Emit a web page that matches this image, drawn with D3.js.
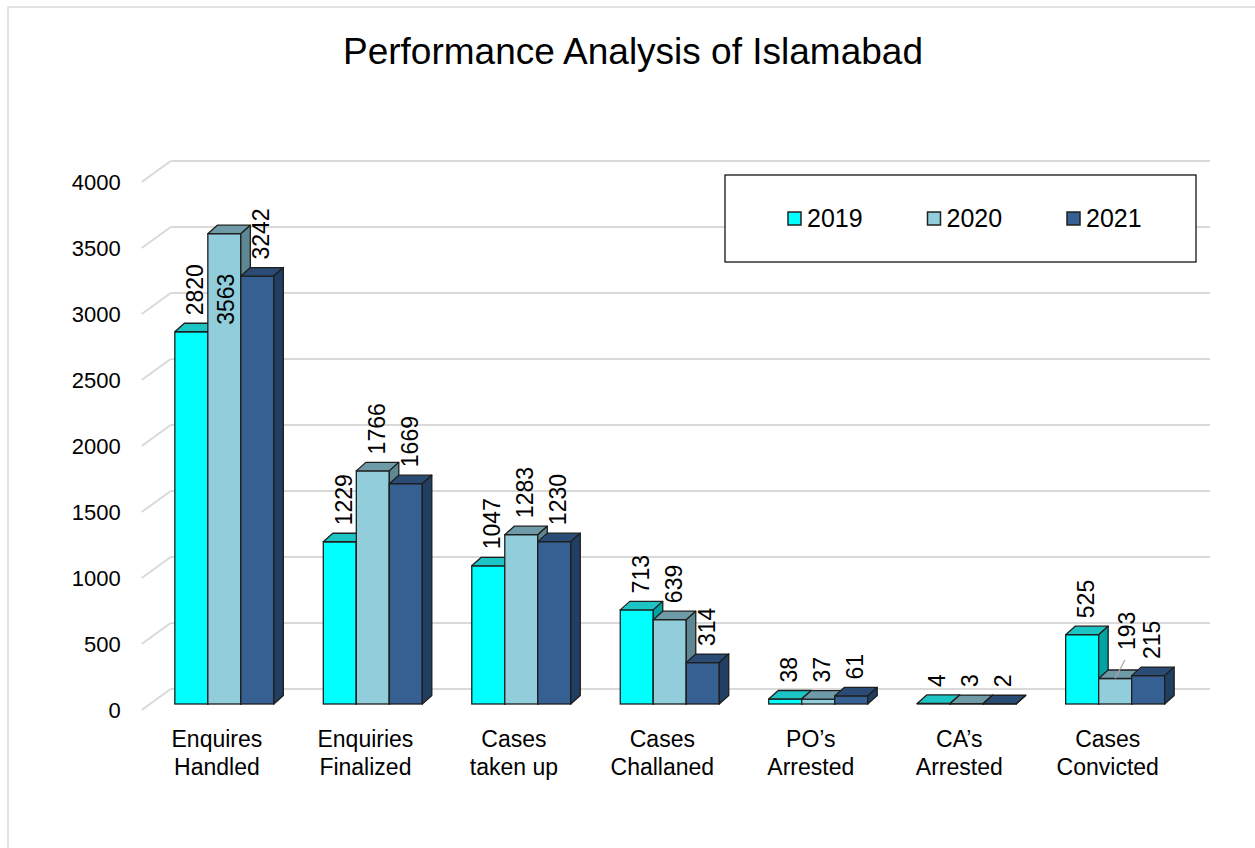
<!DOCTYPE html>
<html>
<head>
<meta charset="utf-8">
<script src="https://cdn.jsdelivr.net/npm/d3@7"></script>
<style>
  body { margin: 0; background: #fff; }
  text { font-family: "Liberation Sans", Arial, sans-serif; fill: #000; }
</style>
</head>
<body>
<div id="chart"></div>
<script>
const categories = ["Enquires\nHandled", "Enquiries\nFinalized", "Cases\ntaken up", "Cases\nChallaned",
    "PO\u2019s\nArrested", "CA\u2019s\nArrested", "Cases\nConvicted"];
const seriesNames = ["2019", "2020", "2021"];
const values2019 = [2820, 1229, 1047, 713, 38, 4, 525];
const values2020 = [3563, 1766, 1283, 639, 37, 3, 193];
const values2021 = [3242, 1669, 1230, 314, 61, 2, 215];
const yTicks = [0, 500, 1000, 1500, 2000, 2500, 3000, 3500, 4000];

const seriesValues = [values2019, values2020, values2021];

// colours: front, top, side
const colors = [
    {front: "#00ffff", top: "#1cc4c4", side: "#00a3a3"},
    {front: "#92cddc", top: "#6e9ba7", side: "#5d8893"},
    {front: "#366092", top: "#2a4c74", side: "#213f63"}
];

const width = 1255, height = 848;
const depth = {dx: 29, dy: -21};      // depth of the whole floor
const barOff = {dx: 8.4, dy: -6};     // bars sit a bit behind the front
const barDepth = {dx: 9.5, dy: -8.5};

const svg = d3.select("#chart").append("svg")
    .attr("width", width)
    .attr("height", height);

svg.append("rect")
    .attr("x", 8).attr("y", 7)
    .attr("width", 1260).attr("height", 860)
    .attr("fill", "#fff")
    .attr("stroke", "#d9d9d9")
    .attr("stroke-width", 1.5);

svg.append("text")
    .attr("x", 633).attr("y", 64)
    .attr("text-anchor", "middle")
    .style("font-size", "37px")
    .text("Performance Analysis of Islamabad");

const x = d3.scaleBand()
    .domain(categories)
    .range([141.7, 1181]);

const xs = d3.scaleBand()
    .domain(seriesNames)
    .range([x.bandwidth() / 2 - 49.5, x.bandwidth() / 2 + 49.5]);

const y = d3.scaleLinear()
    .domain([0, 4000])
    .range([710, 182]);

// gridlines: left diagonal plus back wall
const grid = svg.append("g");
yTicks.forEach(function (t) {
    grid.append("line")
        .attr("x1", 141.7).attr("y1", y(t))
        .attr("x2", 141.7 + depth.dx).attr("y2", y(t) + depth.dy)
        .attr("stroke", "#d9d9d9").attr("stroke-width", 2);
    grid.append("line")
        .attr("x1", 141.7 + depth.dx).attr("y1", y(t) + depth.dy)
        .attr("x2", 1210).attr("y2", y(t) + depth.dy)
        .attr("stroke", "#d9d9d9").attr("stroke-width", 2);
});

// y axis labels
const yAxis = d3.axisLeft(y)
    .tickValues(yTicks)
    .tickFormat(d3.format("d"))
    .tickSize(0)
    .tickPadding(21);

const axisG = svg.append("g")
    .attr("transform", "translate(141.7,0)")
    .call(yAxis);
axisG.select(".domain").remove();
axisG.selectAll("text")
    .style("font-size", "22px")
    .style("font-family", "Liberation Sans, Arial, sans-serif")
    .attr("fill", "#000");

// bars
const bars = [];
categories.forEach(function (c, ci) {
    seriesNames.forEach(function (s, si) {
        bars.push({cat: c, ci: ci, series: s, si: si, value: seriesValues[si][ci]});
    });
});

const barG = svg.append("g");
const edge = "#1e1e1e";

bars.forEach(function (d) {
    const w = xs.bandwidth();
    const x0 = x(d.cat) + xs(d.series) + barOff.dx;
    const yB = y(0) + barOff.dy;
    const yT = y(d.value) + barOff.dy;
    const c = colors[d.si];
    const g = barG.append("g");

    g.append("rect")
        .attr("x", x0).attr("y", yT)
        .attr("width", w).attr("height", Math.max(0, yB - yT))
        .attr("fill", c.front)
        .attr("stroke", edge).attr("stroke-width", 1.3);

    g.append("polygon")
        .attr("points", [
            [x0, yT], [x0 + w, yT],
            [x0 + w + barDepth.dx, yT + barDepth.dy], [x0 + barDepth.dx, yT + barDepth.dy]
        ].join(" "))
        .attr("fill", c.top)
        .attr("stroke", edge).attr("stroke-width", 1.3).attr("stroke-linejoin", "round");

    g.append("polygon")
        .attr("points", [
            [x0 + w, yT], [x0 + w + barDepth.dx, yT + barDepth.dy],
            [x0 + w + barDepth.dx, yB + barDepth.dy], [x0 + w, yB]
        ].join(" "))
        .attr("fill", c.side)
        .attr("stroke", edge).attr("stroke-width", 1.3).attr("stroke-linejoin", "round");
});

// value labels
const labelNudges = [
    {ci: 6, si: 1, dx: 8, dy: -12, leader: true}
];

const labelG = svg.append("g");
bars.forEach(function (d) {
    const w = xs.bandwidth();
    const x0 = x(d.cat) + xs(d.series) + barOff.dx;
    const yT = y(d.value) + barOff.dy;
    let lx = x0 + w / 2 + barDepth.dx / 2 + 7;
    let ly = yT + barDepth.dy - 8;
    let anchor = "start";

    const textLen = String(d.value).length * 12.8;
    if (ly - textLen < 185) {
        // does not fit above: put it inside the bar
        ly = yT + 40;
        lx = x0 + w / 2 + 10;
        anchor = "end";
    }

    const nudge = labelNudges.find(function (n) { return n.ci === d.ci && n.si === d.si; });
    if (nudge) {
        if (nudge.leader) {
            labelG.append("line")
                .attr("x1", lx + nudge.dx - 10).attr("y1", ly + nudge.dy + 10)
                .attr("x2", x0 + w / 2).attr("y2", yT)
                .attr("stroke", "#a6a6a6").attr("stroke-width", 1.2);
        }
        lx += nudge.dx;
        ly += nudge.dy;
    }

    labelG.append("text")
        .attr("transform", "translate(" + lx + "," + ly + ") rotate(-90)")
        .attr("text-anchor", anchor)
        .style("font-size", "23px")
        .text(d.value);
});

// category labels
const catG = svg.append("g");
categories.forEach(function (c) {
    const t = catG.append("text")
        .attr("text-anchor", "middle")
        .style("font-size", "23px");
    c.split("\n").forEach(function (line, i) {
        t.append("tspan")
            .attr("x", x(c) + x.bandwidth() / 2 + 1)
            .attr("y", 747 + i * 27.5)
            .text(line);
    });
});

// legend
const legend = svg.append("g");
legend.append("rect")
    .attr("x", 725).attr("y", 175)
    .attr("width", 471).attr("height", 87)
    .attr("fill", "#fff")
    .attr("stroke", "#000").attr("stroke-width", 1.2);

const legendX = d3.scalePoint()
    .domain(seriesNames)
    .range([788, 1067]);

seriesNames.forEach(function (s, i) {
    legend.append("rect")
        .attr("x", legendX(s)).attr("y", 212)
        .attr("width", 13).attr("height", 13)
        .attr("fill", colors[i].front)
        .attr("stroke", "#222").attr("stroke-width", 1.5);
    legend.append("text")
        .attr("x", legendX(s) + 19).attr("y", 227)
        .style("font-size", "25px")
        .text(s);
});
</script>
</body>
</html>
